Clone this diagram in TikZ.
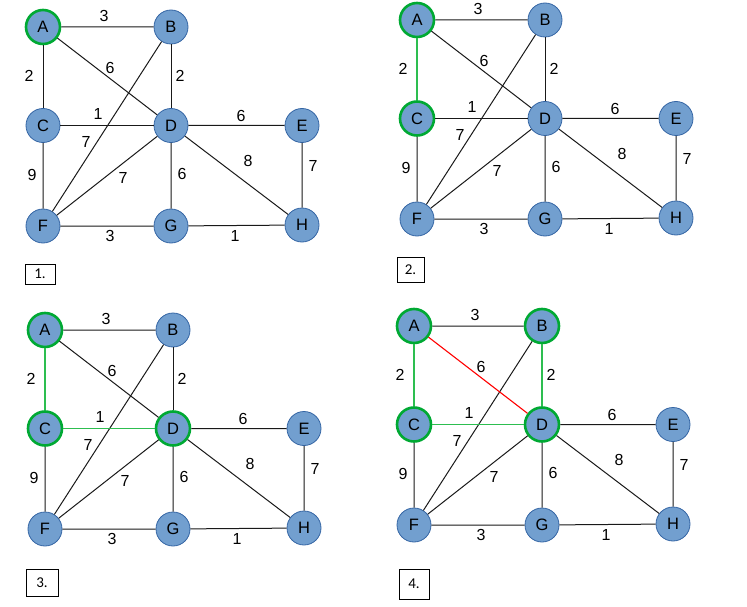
\documentclass[tikz,border=0pt]{standalone}
\usepackage{fontspec}
\setmainfont{Liberation Sans}
\newfontfamily\stepfont{Carlito}
\usetikzlibrary{positioning}
\definecolor{vfill}{HTML}{729FCF}
\definecolor{vline}{HTML}{3465A4}
\definecolor{vgreen}{HTML}{00A933}
\definecolor{egreen}{HTML}{2DBE50}
\tikzset{
  vtx/.style={circle,draw=vline,fill=vfill,minimum size=34pt,inner sep=0pt,line width=.8pt,font=\fontsize{16.5}{19}\selectfont},
  vin/.style={vtx,draw=vgreen,line width=2.6pt},
  edg/.style={draw=black!90,line width=1pt},
  tre/.style={draw=egreen,line width=1.2pt},
  cut/.style={draw=red,line width=1.1pt},
  wt/.style={inner sep=0pt,font=\fontsize{16}{19}\selectfont},
  stp/.style={draw=black,line width=.8pt,minimum width=30pt,minimum height=24pt,inner sep=0pt,font=\stepfont\fontsize{15}{17}\selectfont},
  % state of the vertices and edges that change from step to step;
  % each panel overrides these in its scope options
  sA/.style={vtx}, sB/.style={vtx}, sC/.style={vtx}, sD/.style={vtx},
  eAC/.style={edg}, eCD/.style={edg}, eBD/.style={edg}, eAD/.style={edg},
}
\newcommand{\kgraph}{%
  \node[sA] (A) at (0,0) {A}; \node[sB] (B) at (128,0) {B};
  \node[sC] (C) at (0,98.5) {C}; \node[sD] (D) at (128,98.5) {D};
  \node[vtx] (E) at (259,98.5) {E};
  \node[vtx] (F) at (0,199) {F}; \node[vtx] (G) at (128,199) {G};
  \node[vtx] (H) at (259,198) {H};
  \draw[edg] (A)--(B) (B)--(F) (C)--(F) (D)--(F) (D)--(E) (D)--(G)
    (D)--(H) (E)--(H) (F)--(G) (G)--(H);
  \draw[eAC] (A)--(C); \draw[eCD] (C)--(D);
  \draw[eBD] (B)--(D); \draw[eAD] (A)--(D);
  \node[wt] (wAB) at (61,-11) {3}; \node[wt] (wAC) at (-14,49) {2};
  \node[wt] (wAD) at (67,41) {6};  \node[wt] (wBD) at (137,49) {2};
  \node[wt] (wCD) at (55,87) {1};  \node[wt] (wDE) at (198,89) {6};
  \node[wt] (wBF) at (43,115) {7}; \node[wt] (wCF) at (-11,148) {9};
  \node[wt] (wDF) at (80,151) {7}; \node[wt] (wDG) at (139,147) {6};
  \node[wt] (wDH) at (205,134) {8}; \node[wt] (wEH) at (270,139) {7};
  \node[wt] (wFG) at (67,209) {3}; \node[wt] (wGH) at (192,209) {1};
}

\begin{document}
\begin{tikzpicture}[x=1pt,y=-1pt]
\useasboundingbox (0,0) rectangle (747,607);
\begin{scope}[shift={(43,27)},sA/.style={vin}]
  \kgraph
  \node[stp,minimum height=20pt] (n1) at (-3,247) {1.};
\end{scope}
\begin{scope}[shift={(417,20)},sA/.style={vin},sC/.style={vin},eAC/.style={tre}]
  \kgraph
  \node[stp,minimum width=27pt,minimum height=25pt] (n2) at (-6.5,249.5) {2.};
\end{scope}
\begin{scope}[shift={(45,330)},sA/.style={vin},sC/.style={vin},sD/.style={vin},
    eAC/.style={tre},eCD/.style={tre}]
  \kgraph
  \node[stp,minimum width=32pt,minimum height=27pt] (n3) at (-3,252.5) {3.};
\end{scope}
\begin{scope}[shift={(414,326)},sA/.style={vin},sB/.style={vin},sC/.style={vin},sD/.style={vin},
    eAC/.style={tre},eCD/.style={tre},eBD/.style={tre},eAD/.style={cut}]
  \kgraph
  \node[stp,minimum height=30pt] (n4) at (0,258) {4.};
\end{scope}
\end{tikzpicture}
\end{document}
